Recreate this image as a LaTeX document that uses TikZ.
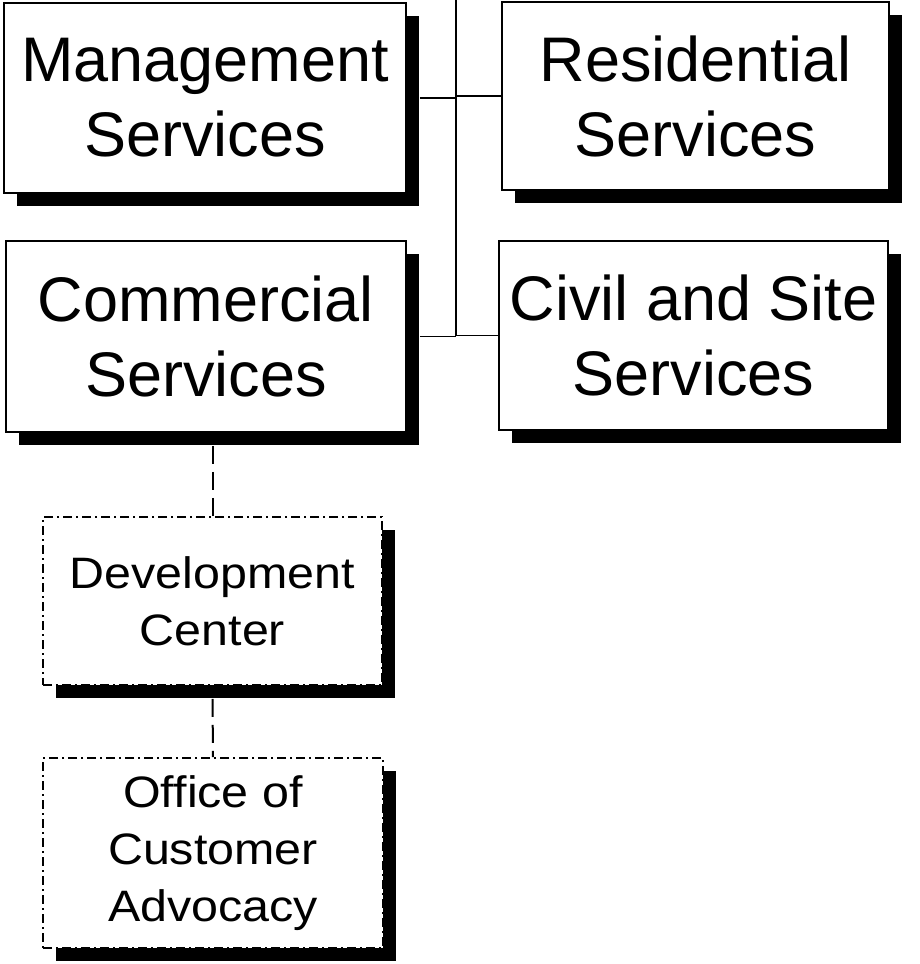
\documentclass[tikz,border=0pt]{standalone}
\usepackage{fontspec}
\setmainfont{Liberation Sans}
\newfontfamily\widefont[FakeStretch=1.1]{Liberation Sans}
\usetikzlibrary{shadows}
\begin{document}
\begin{tikzpicture}[x=1pt,y=-1pt,
  bigbox/.style={draw=black, line width=1.8pt, fill=white, align=center,
    inner sep=0pt, font=\fontsize{63}{75}\selectfont,
    drop shadow={shadow xshift=13pt, shadow yshift=-13pt, fill=black, opacity=1}},
  smallbox/.style={draw=black, line width=1.8pt, fill=white, align=center,
    inner sep=0pt, font=\widefont\fontsize{44}{57}\selectfont,
    dash pattern=on 9pt off 4pt on 2pt off 4pt,
    drop shadow={shadow xshift=13pt, shadow yshift=-13pt, fill=black, opacity=1}},
  conn/.style={draw=black, line width=1.8pt},
  dconn/.style={draw=black, line width=2pt, dash pattern=on 18pt off 8pt}]
\useasboundingbox (0,0) rectangle (919,964);
\coordinate (top) at (456,0);
\coordinate (bot) at (456,336);
\draw[conn] (top) -- (bot);
\node[bigbox, minimum width=402pt, minimum height=190pt] (mgmt) at (205,98) {Management\\Services};
\node[bigbox, minimum width=387pt, minimum height=188pt] (res) at (695.5,96) {Residential\\Services};
\node[bigbox, minimum width=400pt, minimum height=191pt] (comm) at (206,336.5) {Commercial\\Services};
\node[bigbox, minimum width=389pt, minimum height=189pt] (civil) at (693.5,335.5) {Civil and Site\\Services};
\node[smallbox, minimum width=339pt, minimum height=168pt] (dev) at (212.5,601) {Development\\Center};
\node[smallbox, minimum width=340pt, minimum height=190pt] (off) at (213,853) {Office of\\Customer\\Advocacy};
\draw[conn] ([xshift=13pt]mgmt.east) -- (mgmt.east -| top);
\draw[conn] (res.west -| top) -- (res.west);
\draw[conn] ([xshift=13pt]comm.east) -- (comm.east -| top);
\draw[conn] (civil.west -| top) -- (civil.west);
\draw[dconn] ([yshift=-13pt]comm.south -| dev.north) -- (dev.north);
\draw[dconn] ([yshift=-13pt]dev.south) -- (off.north);
\end{tikzpicture}
\end{document}
